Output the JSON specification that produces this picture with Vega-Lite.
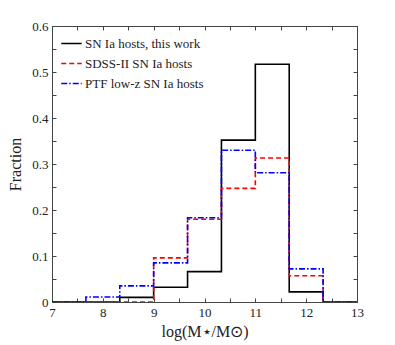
{
  "$schema": "https://vega.github.io/schema/vega-lite/v6.json",
  "autosize": "none",
  "width": 305,
  "height": 276,
  "padding": {"left": 52, "top": 26, "right": 38, "bottom": 43},
  "config": {
    "view": {"stroke": null},
    "font": "Liberation Serif",
    "axis": {"domainColor": "#444", "tickColor": "#444", "labelColor": "#222", "titleColor": "#222", "grid": false, "labelFont": "Liberation Serif", "titleFont": "Liberation Serif", "titleFontWeight": "normal", "labelFontSize": 13, "titleFontSize": 16},
    "legend": {"labelFont": "Liberation Serif"}
  },
  "data": {"values": [
    {"x": 7, "y": 0, "s": "SN Ia hosts, this work"},
    {"x": 7.6667, "y": 0, "s": "SN Ia hosts, this work"},
    {"x": 8.3333, "y": 0.01, "s": "SN Ia hosts, this work"},
    {"x": 9, "y": 0.032, "s": "SN Ia hosts, this work"},
    {"x": 9.6667, "y": 0.066, "s": "SN Ia hosts, this work"},
    {"x": 10.3333, "y": 0.352, "s": "SN Ia hosts, this work"},
    {"x": 11, "y": 0.517, "s": "SN Ia hosts, this work"},
    {"x": 11.6667, "y": 0.022, "s": "SN Ia hosts, this work"},
    {"x": 12.3333, "y": 0, "s": "SN Ia hosts, this work"},
    {"x": 13, "y": 0, "s": "SN Ia hosts, this work"},
    {"x": 7, "y": 0, "s": "SDSS-II SN Ia hosts"},
    {"x": 7.6667, "y": 0, "s": "SDSS-II SN Ia hosts"},
    {"x": 8.3333, "y": 0, "s": "SDSS-II SN Ia hosts"},
    {"x": 9, "y": 0.096, "s": "SDSS-II SN Ia hosts"},
    {"x": 9.6667, "y": 0.18, "s": "SDSS-II SN Ia hosts"},
    {"x": 10.3333, "y": 0.247, "s": "SDSS-II SN Ia hosts"},
    {"x": 11, "y": 0.313, "s": "SDSS-II SN Ia hosts"},
    {"x": 11.6667, "y": 0.057, "s": "SDSS-II SN Ia hosts"},
    {"x": 12.3333, "y": 0, "s": "SDSS-II SN Ia hosts"},
    {"x": 13, "y": 0, "s": "SDSS-II SN Ia hosts"},
    {"x": 7, "y": 0, "s": "PTF low-z SN Ia hosts"},
    {"x": 7.6667, "y": 0.011, "s": "PTF low-z SN Ia hosts"},
    {"x": 8.3333, "y": 0.035, "s": "PTF low-z SN Ia hosts"},
    {"x": 9, "y": 0.085, "s": "PTF low-z SN Ia hosts"},
    {"x": 9.6667, "y": 0.183, "s": "PTF low-z SN Ia hosts"},
    {"x": 10.3333, "y": 0.33, "s": "PTF low-z SN Ia hosts"},
    {"x": 11, "y": 0.281, "s": "PTF low-z SN Ia hosts"},
    {"x": 11.6667, "y": 0.072, "s": "PTF low-z SN Ia hosts"},
    {"x": 12.3333, "y": 0, "s": "PTF low-z SN Ia hosts"},
    {"x": 13, "y": 0, "s": "PTF low-z SN Ia hosts"}
  ]},
  "layer": [
    {
      "mark": {"type": "line", "interpolate": "step-after", "strokeWidth": 1.6, "clip": true},
      "encoding": {
        "x": {"field": "x", "type": "quantitative", "scale": {"domain": [7, 13], "nice": false, "zero": false},
          "axis": {"orient": "bottom", "title": "log(M⋆/M⊙)", "values": [7, 7.5, 8, 8.5, 9, 9.5, 10, 10.5, 11, 11.5, 12, 12.5, 13],
            "labelExpr": "datum.value % 1 === 0 ? format(datum.value, 'd') : ''", "tickSize": -4, "labelPadding": 8, "titlePadding": 4, "labelFlush": false}},
        "y": {"field": "y", "type": "quantitative", "scale": {"domain": [0, 0.6], "nice": false},
          "axis": {"orient": "left", "title": "Fraction", "values": [0, 0.05, 0.1, 0.15, 0.2, 0.25, 0.3, 0.35, 0.4, 0.45, 0.5, 0.55, 0.6],
            "labelExpr": "round(datum.value * 20) % 2 === 0 ? (datum.value === 0 ? '0' : format(datum.value, '.1f')) : ''", "tickSize": -4, "labelPadding": 8, "titlePadding": 8, "labelFlush": false}},
        "color": {"field": "s", "type": "nominal", "scale": {"domain": ["SN Ia hosts, this work", "SDSS-II SN Ia hosts", "PTF low-z SN Ia hosts"], "range": ["#000000", "#ff0000", "#0000ff"]},
          "legend": {"title": null, "orient": "none", "legendX": 8, "legendY": 6, "symbolType": "stroke", "symbolSize": 420, "symbolStrokeWidth": 1.6, "labelFontSize": 13, "labelFont": "Liberation Serif", "rowPadding": 1, "labelOffset": 2, "labelColor": "#222"}},
        "strokeDash": {"field": "s", "type": "nominal", "scale": {"domain": ["SN Ia hosts, this work", "SDSS-II SN Ia hosts", "PTF low-z SN Ia hosts"], "range": [[1, 0], [5, 3], [6, 2, 1.5, 2]]}},
        "order": {"field": "x", "type": "quantitative"}
      }
    },
    {
      "mark": {"type": "line", "opacity": 0},
      "encoding": {
        "x": {"field": "x", "type": "quantitative", "scale": {"domain": [7, 13], "nice": false, "zero": false},
          "axis": {"orient": "top", "title": null, "labels": false, "values": [7, 7.5, 8, 8.5, 9, 9.5, 10, 10.5, 11, 11.5, 12, 12.5, 13], "tickSize": -4}},
        "y": {"field": "y", "type": "quantitative", "scale": {"domain": [0, 0.6], "nice": false},
          "axis": {"orient": "right", "title": null, "labels": false, "values": [0, 0.05, 0.1, 0.15, 0.2, 0.25, 0.3, 0.35, 0.4, 0.45, 0.5, 0.55, 0.6], "tickSize": -4}},
        "detail": {"field": "s"}
      }
    }
  ],
  "resolve": {"scale": {"x": "independent", "y": "independent", "color": "independent", "strokeDash": "independent"}}
}
